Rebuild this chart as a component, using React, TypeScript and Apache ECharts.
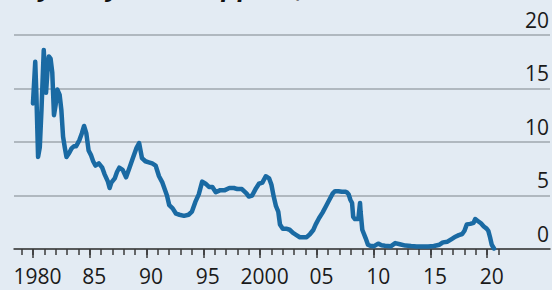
import React, { useEffect, useRef } from "react";
import * as echarts from "echarts";

const years = [
  1980.0, 1980.2, 1980.3, 1980.45, 1980.6, 1980.75, 1980.95, 1981.05, 1981.15, 1981.3,
  1981.4, 1981.55, 1981.7, 1981.85, 1982.0, 1982.15, 1982.35, 1982.5, 1982.65, 1982.8,
  1982.95, 1983.2, 1983.4, 1983.6, 1983.8, 1984.1, 1984.3, 1984.5, 1984.7, 1984.9,
  1985.1, 1985.3, 1985.5, 1985.8, 1986.1, 1986.3, 1986.6, 1986.75, 1986.9, 1987.2,
  1987.4, 1987.6, 1987.9, 1988.2, 1988.5, 1988.8, 1989.1, 1989.35, 1989.6, 1989.9,
  1990.2, 1990.5, 1990.8, 1991.1, 1991.4, 1991.8, 1992.0, 1992.3, 1992.6, 1992.9,
  1993.3, 1993.7, 1994.0, 1994.3, 1994.6, 1994.9, 1995.2, 1995.5, 1995.8, 1996.1,
  1996.5, 1996.9, 1997.3, 1997.7, 1998.0, 1998.4, 1998.8, 1999.0, 1999.3, 1999.6,
  1999.9, 2000.2, 2000.5, 2000.8, 2001.0, 2001.2, 2001.4, 2001.6, 2001.75, 2002.0,
  2002.3, 2002.6, 2002.9, 2003.2, 2003.5, 2003.8, 2004.1, 2004.4, 2004.7, 2004.9,
  2005.2, 2005.5, 2005.8, 2006.1, 2006.4, 2006.6, 2006.9, 2007.2, 2007.5, 2007.65,
  2007.8, 2007.95, 2008.1, 2008.2, 2008.35, 2008.65, 2008.8, 2008.85, 2009.0, 2009.3,
  2009.5, 2009.7, 2010.0, 2010.4, 2010.7, 2011.0, 2011.5, 2011.9, 2012.3, 2012.8,
  2013.3, 2013.8, 2014.3, 2014.8, 2015.3, 2015.8, 2016.1, 2016.5, 2016.9, 2017.2,
  2017.5, 2017.8, 2018.0, 2018.2, 2018.5, 2018.8, 2018.95, 2019.2, 2019.45, 2019.7,
  2019.95, 2020.1, 2020.25, 2020.4, 2020.6,
];

const rates = [
  13.6, 17.5, 14.5, 8.6, 9.5, 13.0, 18.6, 16.5, 14.6, 17.0,
  18.0, 17.8, 16.5, 12.5, 13.5, 14.9, 14.4, 13.0, 10.5, 9.5,
  8.6, 9.0, 9.4, 9.6, 9.6, 10.2, 10.8, 11.5, 10.8, 9.2,
  8.8, 8.2, 7.8, 8.0, 7.6, 7.0, 6.3, 5.7, 6.2, 6.6,
  7.2, 7.6, 7.4, 6.7, 7.6, 8.5, 9.4, 9.9, 8.5, 8.2,
  8.1, 8.0, 7.8, 6.8, 6.2, 5.0, 4.1, 3.8, 3.3, 3.2,
  3.1, 3.2, 3.5, 4.4, 5.1, 6.3, 6.1, 5.8, 5.8, 5.3,
  5.5, 5.5, 5.7, 5.7, 5.6, 5.6, 5.2, 4.9, 5.0, 5.6,
  6.1, 6.2, 6.8, 6.6, 6.0, 4.9, 4.0, 3.5, 2.3, 1.9,
  1.9, 1.8, 1.5, 1.3, 1.1, 1.1, 1.1, 1.4, 1.8, 2.3,
  2.9, 3.4, 4.0, 4.6, 5.2, 5.4, 5.4, 5.35, 5.35, 5.3,
  5.1, 4.6, 4.3, 3.0, 2.8, 2.8, 4.3, 3.5, 1.8, 1.0,
  0.4, 0.3, 0.25, 0.5, 0.35, 0.3, 0.25, 0.55, 0.45, 0.32,
  0.27, 0.24, 0.23, 0.24, 0.28, 0.4, 0.62, 0.68, 0.95, 1.15,
  1.3, 1.4, 1.7, 2.3, 2.35, 2.45, 2.8, 2.6, 2.4, 2.1,
  1.9, 1.7, 1.1, 0.4, 0.05,
];

const minorTickYears = [
  1979, 1980, 1981, 1982, 1983, 1984, 1985, 1986, 1987, 1988, 1989, 1990, 1991, 1992,
  1993, 1994, 1995, 1996, 1997, 1998, 1999, 2000, 2001, 2002, 2003, 2004, 2005, 2006,
  2007, 2008, 2009, 2010, 2011, 2012, 2013, 2014, 2015, 2016, 2017, 2018, 2019, 2020, 2021,
];
const majorTickYears = [1980, 1985, 1990, 1995, 2000, 2005, 2010, 2015, 2020];
const xTickLabels = ["1980", "85", "90", "95", "2000", "05", "10", "15", "20"];
const yTicks = [0, 5, 10, 15, 20];

const titleText = "Key US yield at approx, %";

export default function App() {
  const ref = useRef<HTMLDivElement>(null);

  useEffect(() => {
    if (!ref.current) return;
    const chart = echarts.init(ref.current, undefined, { renderer: "svg" });
    const X_MIN = 1978.33;
    const X_MAX = 2025.53;
    const labelOffset = 0.4;
    const labelValues = majorTickYears.map((y) => y + labelOffset);
    const font = '"Open Sans", "Noto Sans", sans-serif';

    chart.setOption({
      animation: false,
      backgroundColor: "#e3ebf3",
      grid: { left: 14, right: 0, top: 35, bottom: 41, containLabel: false },
      graphic: [
        {
          type: "text",
          x: 4,
          y: 0,
          style: {
            text: titleText,
            font: 'italic bold 27px "Liberation Sans", sans-serif',
            fill: "#111",
            verticalAlign: "bottom",
          },
        },
      ],
      xAxis: [
        {
          type: "value",
          min: X_MIN,
          max: X_MAX,
          position: "bottom",
          axisLine: { show: true, onZero: true, lineStyle: { color: "#3a3a3a", width: 1.5 } },
          axisTick: {
            show: true,
            customValues: majorTickYears,
            length: 9,
            lineStyle: { color: "#3a3a3a", width: 1.5 },
          },
          axisLabel: {
            show: true,
            customValues: labelValues,
            formatter: (v: number) => {
              const i = labelValues.findIndex((lv) => Math.abs(lv - v) < 0.01);
              return i >= 0 ? xTickLabels[i] : "";
            },
            fontFamily: font,
            fontSize: 21,
            color: "#1a1a1a",
            margin: 16,
          },
          splitLine: { show: false },
        },
        {
          type: "value",
          min: X_MIN,
          max: X_MAX,
          position: "bottom",
          offset: 0,
          axisLine: { show: false },
          axisTick: {
            show: true,
            customValues: minorTickYears,
            length: 6,
            lineStyle: { color: "#3a3a3a", width: 1.5 },
          },
          axisLabel: { show: false },
          splitLine: { show: false },
        },
      ],
      yAxis: {
        type: "value",
        position: "right",
        min: yTicks[0],
        max: yTicks[yTicks.length - 1],
        interval: 5,
        axisLine: { show: false },
        axisTick: { show: false },
        splitLine: { show: true, lineStyle: { color: "#b0b8bf", width: 2 } },
        axisLabel: {
          inside: true,
          align: "right",
          verticalAlign: "bottom",
          margin: 1,
          padding: [0, 0, 5, 0],
          fontFamily: font,
          fontSize: 21,
          color: "#1a1a1a",
        },
      },
      series: [
        {
          type: "line",
          xAxisIndex: 0,
          data: years.map((y, i) => [y, rates[i]]),
          showSymbol: false,
          symbol: "none",
          smooth: false,
          lineStyle: { color: "#1a6aa3", width: 4.5, join: "round", cap: "round" },
          z: 3,
        },
      ],
    });

    return () => chart.dispose();
  }, []);

  return (
    <div
      ref={ref}
      style={{ position: "absolute", left: 0, top: 0, width: 552, height: 290 }}
    />
  );
}
